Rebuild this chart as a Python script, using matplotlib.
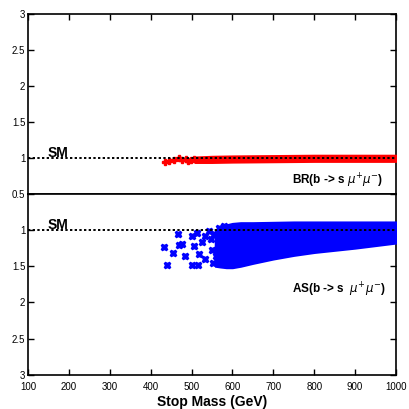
import matplotlib
matplotlib.use("Agg")
import matplotlib.pyplot as plt
from matplotlib.ticker import FixedLocator, FuncFormatter

plt.rcParams['font.family'] = ['Liberation Sans', 'DejaVu Sans']

# ---------------- data ----------------
x_ticks = [100, 200, 300, 400, 500, 600, 700, 800, 900, 1000]
y_ticks = [0.5, 1, 1.5, 2, 2.5, 3]
sm_value = 1.0

# BR(b -> s mu mu): sparse points and dense band envelope
br_sparse_mass = [436, 446, 457, 469, 477, 486, 492, 498, 506]
br_sparse_val = [0.945, 0.96, 0.97, 0.99, 0.97, 0.98, 0.96, 0.97, 0.98]
br_band_mass = [508, 550, 600, 700, 800, 900, 1000]
br_band_low = [0.935, 0.935, 0.94, 0.945, 0.95, 0.95, 0.95]
br_band_high = [1.01, 1.02, 1.025, 1.03, 1.035, 1.035, 1.035]

# AS(b -> s mu mu): sparse points and dense band envelope
as_sparse_mass = [432, 440, 454, 467, 469, 477, 485, 500, 500, 505, 514, 518,
                  516, 526, 534, 534, 542, 548, 550, 552, 556, 560, 567, 579]
as_sparse_val = [1.24, 1.48, 1.32, 1.06, 1.21, 1.20, 1.36, 1.08, 1.48, 1.22,
                 1.04, 1.33, 1.48, 1.17, 1.08, 1.40, 1.01, 1.12, 1.27, 1.45,
                 1.05, 1.36, 0.97, 0.94]
as_band_mass = [558, 570, 585, 600, 620, 650, 700, 750, 800, 850, 900, 950, 1000]
as_band_high = [1.02, 0.98, 0.93, 0.91, 0.90, 0.90, 0.895, 0.89, 0.89, 0.89, 0.89, 0.89, 0.89]
as_band_low = [1.50, 1.51, 1.52, 1.52, 1.50, 1.46, 1.40, 1.35, 1.31, 1.28, 1.25, 1.215, 1.18]

# ---------------- figure ----------------
fig = plt.figure(figsize=(4.09, 4.09), dpi=100)
L, R = 28 / 409, 396 / 409
top_t, mid, bot_b = 1 - 14 / 409, 1 - 193.7 / 409, 1 - 375 / 409
ax1 = fig.add_axes([L, mid, R - L, top_t - mid])
ax2 = fig.add_axes([L, bot_b, R - L, mid - bot_b])

red = '#ff0000'
blue = '#0000ff'
fmt = FuncFormatter(lambda v, p: '%g' % v)

for ax in (ax1, ax2):
    ax.set_xlim(100, 1000)
    ax.xaxis.set_major_locator(FixedLocator(x_ticks))
    ax.yaxis.set_major_locator(FixedLocator(y_ticks))
    ax.yaxis.set_major_formatter(fmt)
    ax.tick_params(direction='in', length=4, width=1, labelsize=7,
                   top=True, right=True, pad=2)
    for s in ax.spines.values():
        s.set_linewidth(1.2)
    ax.axhline(sm_value, color='black', linestyle=(0, (1.2, 1.2)), lw=1.4, zorder=5)

# top panel
ax1.set_ylim(0.5, 3)
ax1.tick_params(labelbottom=False, bottom=False)
ax1.fill_between(br_band_mass, br_band_low, br_band_high, color=red, lw=1.5,
                 edgecolor=red, zorder=3)
ax1.plot(br_sparse_mass, br_sparse_val, linestyle='none', marker='P',
         markersize=4.5, color=red, zorder=3)
ax1.text(149, 1.01, 'SM', fontsize=10, fontweight='bold', ha='left', va='baseline')
ax1.text(968, 0.62, r'BR(b -> s $\mu^{+}\mu^{-}$)', fontsize=8.5, fontweight='bold',
         ha='right', va='baseline')

# bottom panel (inverted)
ax2.set_ylim(3, 0.5)
ax2.tick_params(top=False)
ax2.yaxis.set_major_formatter(FuncFormatter(lambda v, p: '' if v == 0.5 else '%g' % v))
ax2.fill_between(as_band_mass, as_band_high, as_band_low, color=blue, lw=1.5,
                 edgecolor=blue, zorder=3)
ax2.plot(as_sparse_mass, as_sparse_val, linestyle='none', marker='X',
         markersize=5, color=blue, zorder=3)
ax2.text(149, 0.985, 'SM', fontsize=10, fontweight='bold', ha='left', va='baseline')
ax2.text(975, 1.88, r'AS(b -> s  $\mu^{+}\mu^{-}$)', fontsize=8.5, fontweight='bold',
         ha='right', va='baseline')
ax2.tick_params(axis='x', labelsize=7, pad=5)
ax2.set_xlabel('Stop Mass (GeV)', fontsize=10, fontweight='bold', labelpad=2)

fig.savefig('out.png', dpi=100)
